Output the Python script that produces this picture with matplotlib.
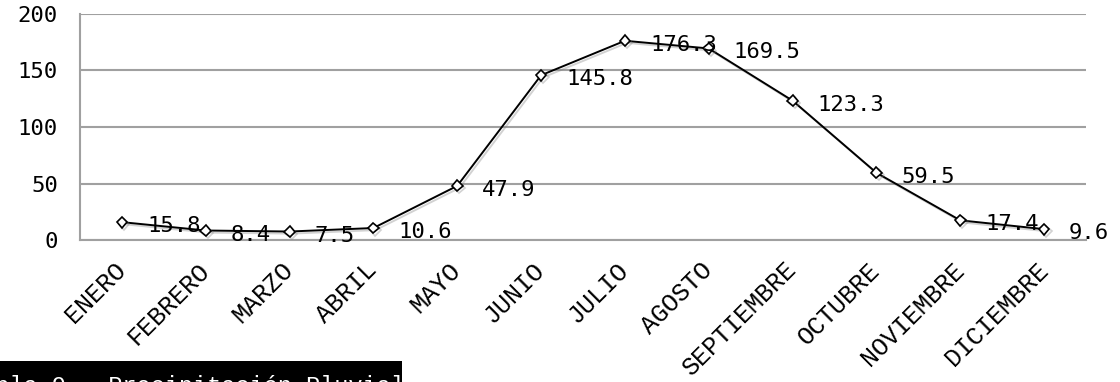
import matplotlib
matplotlib.use("Agg")
import matplotlib.pyplot as plt
import matplotlib.patheffects as pe
from matplotlib.patches import Rectangle

# monthly rainfall (mm)
months = ["ENERO", "FEBRERO", "MARZO", "ABRIL", "MAYO", "JUNIO", "JULIO",
          "AGOSTO", "SEPTIEMBRE", "OCTUBRE", "NOVIEMBRE", "DICIEMBRE"]
rain = [15.8, 8.4, 7.5, 10.6, 47.9, 145.8, 176.3, 169.5, 123.3, 59.5, 17.4, 9.6]
y_ticks = [0, 50, 100, 150, 200]
caption = "Tabla 9.- Precipitación Pluvial"

W, H = 1120, 382
fig = plt.figure(figsize=(W / 100, H / 100), dpi=100)
ax = fig.add_axes([80 / W, 1 - 240 / H, (1086 - 80) / W, (240 - 14) / H])

x = list(range(len(months)))
ax.plot(x, rain, color="black", lw=1.4, marker="D", ms=5.5, mfc="white",
        mec="black", mew=1.2, zorder=3,
        path_effects=[pe.SimpleLineShadow(offset=(1.5, -1.5), shadow_color="gray", alpha=0.35),
                      pe.Normal()])

for xi, v in zip(x, rain):
    ax.annotate(f"{v}", (xi, v), xytext=(25, -4), textcoords="offset pixels",
                ha="left", va="center", fontsize=16, family="DejaVu Sans Mono",
                color="black", zorder=4, annotation_clip=False)

ax.set_xlim(-0.5, len(months) - 0.5)
ax.set_ylim(0, 200)
ax.set_yticks(y_ticks)
ax.yaxis.grid(True, color="#a0a0a0", lw=1.5)
ax.set_axisbelow(True)
for s in ["top", "right"]:
    ax.spines[s].set_visible(False)
for s in ["left", "bottom"]:
    ax.spines[s].set_color("#a0a0a0")
    ax.spines[s].set_linewidth(1.5)

ax.tick_params(axis="y", length=0, pad=16, labelsize=16)
for lab in ax.get_yticklabels():
    lab.set_family("DejaVu Sans Mono")

ax.set_xticks(x)
ax.set_xticklabels(months, rotation=45, ha="right", va="center",
                   rotation_mode="anchor", family="Liberation Mono", fontsize=18)
ax.tick_params(axis="x", length=0, pad=19)

# black caption strip at the bottom, partly cut off
fig.patches.append(Rectangle((0, 0), 402 / W, (382 - 361) / H, transform=fig.transFigure,
                             facecolor="black", edgecolor="none", zorder=5))
fig.text(-33 / W, -11 / H, caption, color="white", family="Liberation Mono",
         fontsize=17, ha="left", va="baseline", zorder=6)

fig.savefig("out.png", dpi=100)
